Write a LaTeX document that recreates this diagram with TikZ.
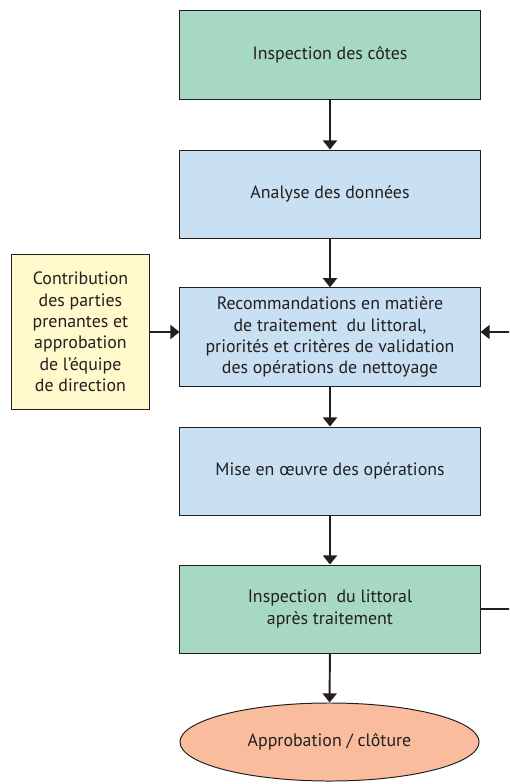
\documentclass[tikz,border=0pt]{standalone}
\usepackage{fontspec}
\setmainfont{PT Sans}
\usetikzlibrary{arrows.meta,positioning,shapes.geometric}
\definecolor{flowGreen}{RGB}{167,216,193}
\definecolor{flowBlue}{RGB}{201,224,243}
\definecolor{flowYellow}{RGB}{255,249,204}
\definecolor{flowSalmon}{RGB}{249,189,158}
\definecolor{flowInk}{RGB}{35,31,32}

\begin{document}
\begin{tikzpicture}[x=0.025cm,y=-0.025cm,
    font=\fontsize{12.7}{15.2}\selectfont,
    box/.style={draw=flowInk, line width=0.7pt, text=flowInk, align=center,
        minimum width=7.5cm, minimum height=2.2cm, inner sep=2pt},
    sidebox/.style={box, fill=flowYellow, minimum width=3.425cm, minimum height=3.85cm},
    flow/.style={draw=flowInk, line width=1.4pt, -{Triangle[width=10pt,length=6.5pt]}}]

    \clip (0,0) rectangle (509,784);

    % Main column
    \node[box, fill=flowGreen] (inspect) at (330,55) {Inspection des côtes};
    \node[box, fill=flowBlue] (analyse) at (330,194) {Analyse des données};
    \node[box, fill=flowBlue, minimum height=2.475cm] (recomm) at (330,337.3)
        {Recommandations en matière\\de traitement\ \ du littoral,\\priorités et critères de validation\\des opérations de nettoyage};
    \node[box, fill=flowBlue] (mise) at (330,471) {Mise en œuvre des opérations};
    \node[box, fill=flowGreen] (postinsp) at (330,609) {Inspection\ \ du littoral\\après traitement};
    \node[box, ellipse, fill=flowSalmon, minimum width=7.475cm, minimum height=1.95cm]
        (closure) at (329.5,742) {Approbation / clôture};

    % Side input
    \node[sidebox] (stake) at (80.5,332)
        {Contribution\\des parties\\prenantes et\\approbation\\de l’équipe\\de direction};

    % Connectors
    \draw[flow] (inspect) -- (analyse);
    \draw[flow] (analyse) -- (recomm);
    \draw[flow] (recomm) -- (mise);
    \draw[flow] (mise) -- (postinsp);
    \draw[flow] (postinsp) -- (closure);
    \draw[flow] (stake.east) -- (stake.east -| recomm.west);

    % Feedback loop (runs off the right edge)
    \coordinate (feed) at (540,332);
    \draw[flow] (postinsp.east) -| (feed) -- (feed -| recomm.east);

\end{tikzpicture}
\end{document}
